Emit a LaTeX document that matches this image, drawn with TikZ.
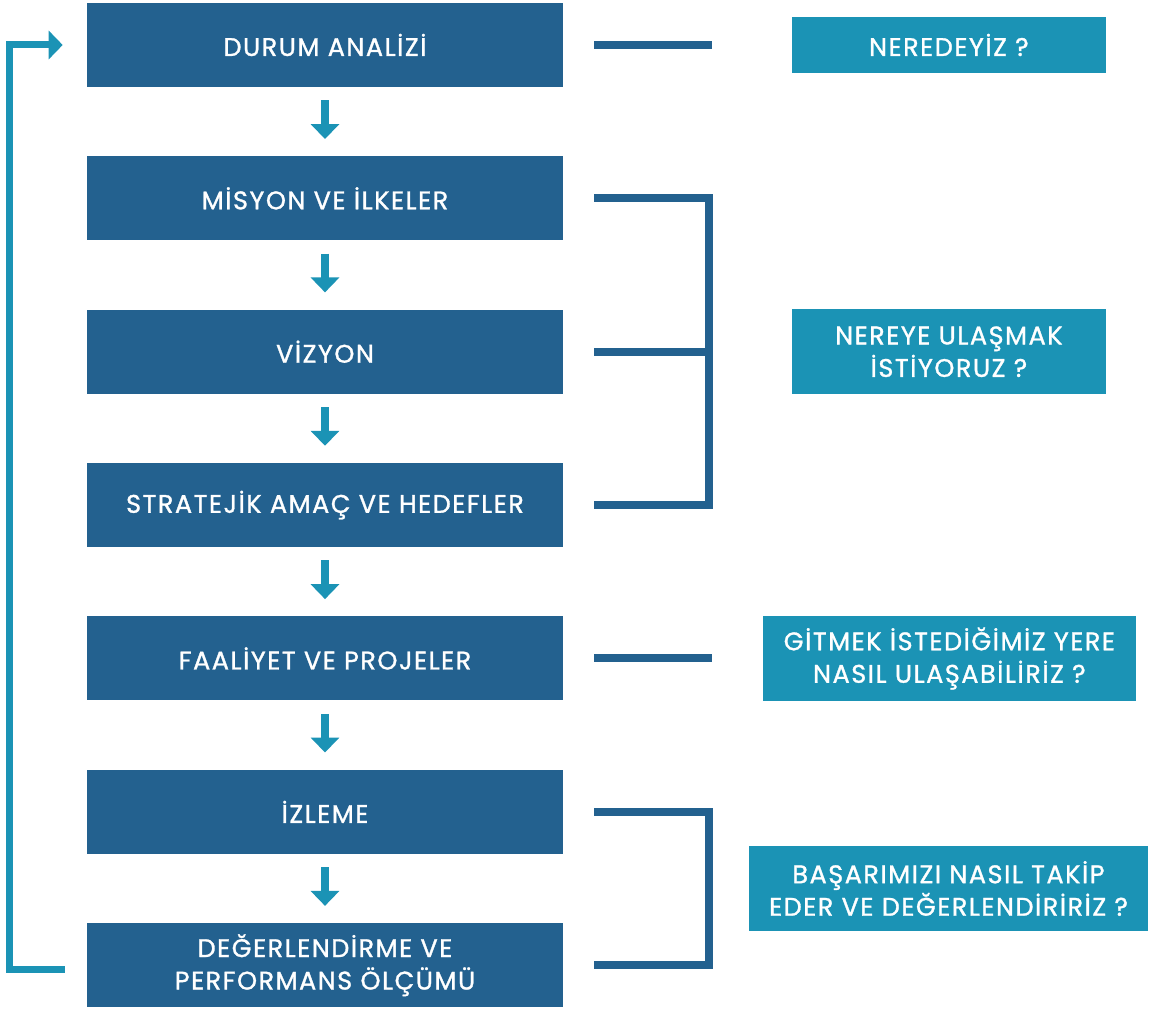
\documentclass[tikz,border=0pt]{standalone}
\usepackage{fontspec}
\setmainfont{Poppins}[LetterSpace=6, FakeBold=1.2]
\usepackage{tikz}
\usetikzlibrary{arrows.meta}
\definecolor{stepblue}{RGB}{35,97,143}
\definecolor{askteal}{RGB}{27,147,181}
\tikzstyle{stage} = [rectangle, fill=stepblue, text=white, minimum width=9.52cm, minimum height=1.68cm, align=center, font=\fontsize{14.5}{18.5}\selectfont]
\tikzstyle{question} = [rectangle, fill=askteal, text=white, minimum height=1.7cm, align=center, font=\fontsize{14.5}{18.5}\selectfont]
\tikzstyle{flow} = [askteal, line width=0.16cm, -{Triangle[width=0.56cm, length=0.3cm]}, shorten <=0.26cm, shorten >=0.34cm]
\tikzstyle{back} = [askteal, line width=0.14cm, -{Triangle[width=0.56cm, length=0.28cm]}]
\tikzstyle{link} = [stepblue, line width=0.16cm, line join=miter]

\begin{document}
\begin{tikzpicture}[x=0.02cm, y=0.02cm, node distance=3.068cm]
                \useasboundingbox (0,0) rectangle (1149,1012);

                \node (1) [stage] at (325,967) {DURUM ANALİZİ};
                \node (2) [stage, below of=1] {MİSYON VE İLKELER};
                \node (3) [stage, below of=2] {VİZYON};
                \node (4) [stage, below of=3] {STRATEJİK AMAÇ VE HEDEFLER};
                \node (5) [stage, below of=4] {FAALİYET VE PROJELER};
                \node (6) [stage, below of=5] {İZLEME};
                \node (7) [stage, below of=6] {DEĞERLENDİRME VE\\PERFORMANS ÖLÇÜMÜ};

                \node (q1) [question, minimum width=6.28cm, minimum height=1.12cm, right of=1, node distance=12.48cm] {NEREDEYİZ ?};
                \node (q2) [question, minimum width=6.28cm, right of=3, node distance=12.48cm] {NEREYE ULAŞMAK\\İSTİYORUZ ?};
                \node (q3) [question, minimum width=7.46cm, right of=5, node distance=12.49cm] {GİTMEK İSTEDİĞİMİZ YERE\\NASIL ULAŞABİLİRİZ ?};
                \node (q4) [question, minimum width=7.98cm] at (948.5,123.5) {BAŞARIMIZI NASIL TAKİP\\EDER VE DEĞERLENDİRİRİZ ?};

                \draw [flow] (1) -- (2);
                \draw [flow] (2) -- (3);
                \draw [flow] (3) -- (4);
                \draw [flow] (4) -- (5);
                \draw [flow] (5) -- (6);
                \draw [flow] (6) -- (7);

                % return loop
                \draw [back] ([shift={(-22,-4)}]7.west) -- ++(-55,0) |- ([shift={(-24,0)}]1.west);

                \draw [link] ([xshift=0.62cm]1.east) -- ++(118,0);
                \draw [link] ([xshift=0.62cm]2.east) -- ++(115,0) |- ([xshift=0.62cm]4.east);
                \draw [link] ([xshift=0.62cm]3.east) -- ++(115,0);
                \draw [link] ([xshift=0.62cm]5.east) -- ++(118,0);
                \draw [link] ([xshift=0.62cm]6.east) -- ++(115,0) |- ([xshift=0.62cm]7.east);
            \end{tikzpicture}
\end{document}
